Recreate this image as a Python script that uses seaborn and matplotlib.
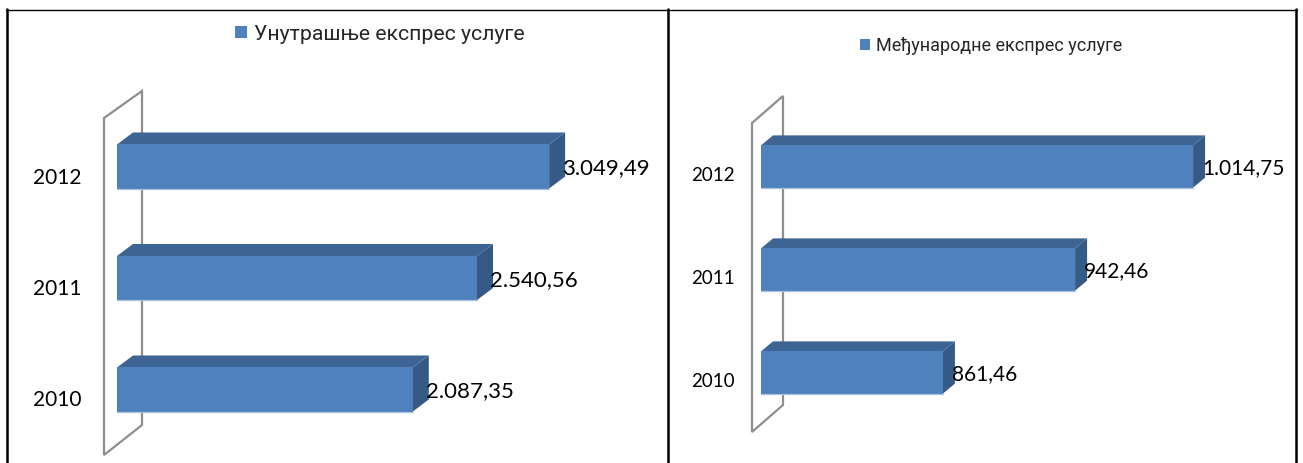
import matplotlib
matplotlib.use("Agg")
import matplotlib.pyplot as plt
import seaborn as sns
import pandas as pd
from matplotlib.patches import Polygon, Patch
from matplotlib.lines import Line2D
from matplotlib.transforms import IdentityTransform, offset_copy

# ---------------- data ----------------
years = ["2012", "2011", "2010"]
domestic = [3049.49, 2540.56, 2087.35]
international = [1014.75, 942.46, 861.46]
series_domestic = "Унутрашње експрес услуге"
series_international = "Међународне експрес услуге"

# ---------------- style ----------------
sns.set_style("white")
plt.rcParams["font.family"] = ["Lato", "DejaVu Sans"]

W, H = 1303, 463
fig = plt.figure(figsize=(W / 100, H / 100), dpi=100)

FRONT = "#4F81BD"
TOP = "#3E6493"
SIDE = "#355A86"
EDGE = "#A9C1DF"
WALL = "#8E8E8E"


def fx(px):
    return px / W


def fy(py):
    return 1 - py / H


def fmt(v):
    s = f"{v:,.2f}"
    return s.replace(",", "X").replace(".", ",").replace("X", ".")


def panel(values, series, left, right, top, bottom, xmin, xmax, barw,
          dx, dy, wall, ylab_pad, ylab_off, ylab_size, val_size,
          leg_xy, leg_size):
    ax = fig.add_axes([fx(left), fy(bottom), fx(right) - fx(left), (bottom - top) / H])
    df = pd.DataFrame({"year": years, "value": values})
    sns.barplot(data=df, x="value", y="year", order=years, orient="h",
                color=FRONT, saturation=1, width=barw, ax=ax, zorder=3,
                linewidth=0)
    ax.set_xlim(xmin, xmax)
    ax.set_ylim(len(years) - 0.4, -0.6)
    ax.axis("off")

    # 3D wall (decoration)
    (lx, lt, lb), (rx, rt, rb) = wall
    pts = [(lx, H - lt), (rx, H - rt), (rx, H - rb), (lx, H - lb)]
    ax.add_patch(Polygon(pts, closed=True, fill=False, edgecolor=WALL,
                         linewidth=1.6, transform=IdentityTransform(),
                         clip_on=False, zorder=1))

    # 3D faces for each bar
    fig.canvas.draw()
    axbb = ax.get_window_extent()
    for p in list(ax.patches):
        if isinstance(p, Polygon):
            continue
        bb = p.get_window_extent()
        xl, xr, yb, yt = max(bb.x0, axbb.x0), bb.x1, bb.y0, bb.y1
        topf = [(xl, yt), (xr, yt), (xr + dx, yt + dy), (xl + dx, yt + dy)]
        side = [(xr, yt), (xr + dx, yt + dy), (xr + dx, yb + dy), (xr, yb)]
        ax.add_patch(Polygon(topf, closed=True, facecolor=TOP, edgecolor="none",
                             transform=IdentityTransform(), clip_on=False, zorder=2))
        ax.add_patch(Polygon(side, closed=True, facecolor=SIDE, edgecolor="none",
                             transform=IdentityTransform(), clip_on=False, zorder=2))
        ax.add_line(Line2D([xl, xr], [yb, yb], color=EDGE, linewidth=0.9,
                           transform=IdentityTransform(), clip_on=False, zorder=4))

    # category labels
    tr = offset_copy(ax.get_yaxis_transform(), fig=fig, x=-ylab_pad, y=-ylab_off, units="dots")
    for i, y in enumerate(years):
        ax.text(0, i, y, transform=tr, ha="right", va="center",
                fontsize=ylab_size, color="#000000")

    # value labels
    trv = offset_copy(ax.transData, fig=fig, x=dx - 3, y=-2, units="dots")
    for i, v in enumerate(values):
        ax.text(v, i, fmt(v), transform=trv, ha="left", va="center",
                fontsize=val_size, color="#000000", zorder=5)

    # legend
    fig.legend(handles=[Patch(facecolor=FRONT, edgecolor="none")], labels=[series],
               loc="center left", bbox_to_anchor=(fx(leg_xy[0]), fy(leg_xy[1])),
               frameon=False, handlelength=0.55, handleheight=0.55,
               handletextpad=0.35, borderpad=0, borderaxespad=0,
               prop={"family": ["Roboto", "DejaVu Sans"], "size": leg_size})
    return ax


panel(domestic, series_domestic, left=117, right=660, top=99.6, bottom=456.4,
      xmin=0, xmax=543 / 0.1417, barw=0.395, dx=16, dy=12,
      wall=((104, 118, 455), (142, 91, 425)),
      ylab_pad=35, ylab_off=11, ylab_size=15, val_size=16,
      leg_xy=(235, 34), leg_size=15.3)

panel(international, series_international, left=761, right=1296, top=104.7, bottom=434.3,
      xmin=750, xmax=750 + 535 / 1.632, barw=0.41, dx=12, dy=10,
      wall=((752, 123, 432), (783, 96, 405)),
      ylab_pad=26, ylab_off=9, ylab_size=13.5, val_size=15,
      leg_xy=(860, 46), leg_size=13)

# table-like borders
for x in (7, 668, 1296):
    fig.add_artist(Line2D([fx(x), fx(x)], [fy(9), fy(463)], color="black",
                          linewidth=1.8, transform=fig.transFigure))
fig.add_artist(Line2D([fx(6), fx(1297)], [fy(9.5), fy(9.5)], color="black",
                      linewidth=1.0, transform=fig.transFigure))

fig.savefig("out.png", dpi=100)
